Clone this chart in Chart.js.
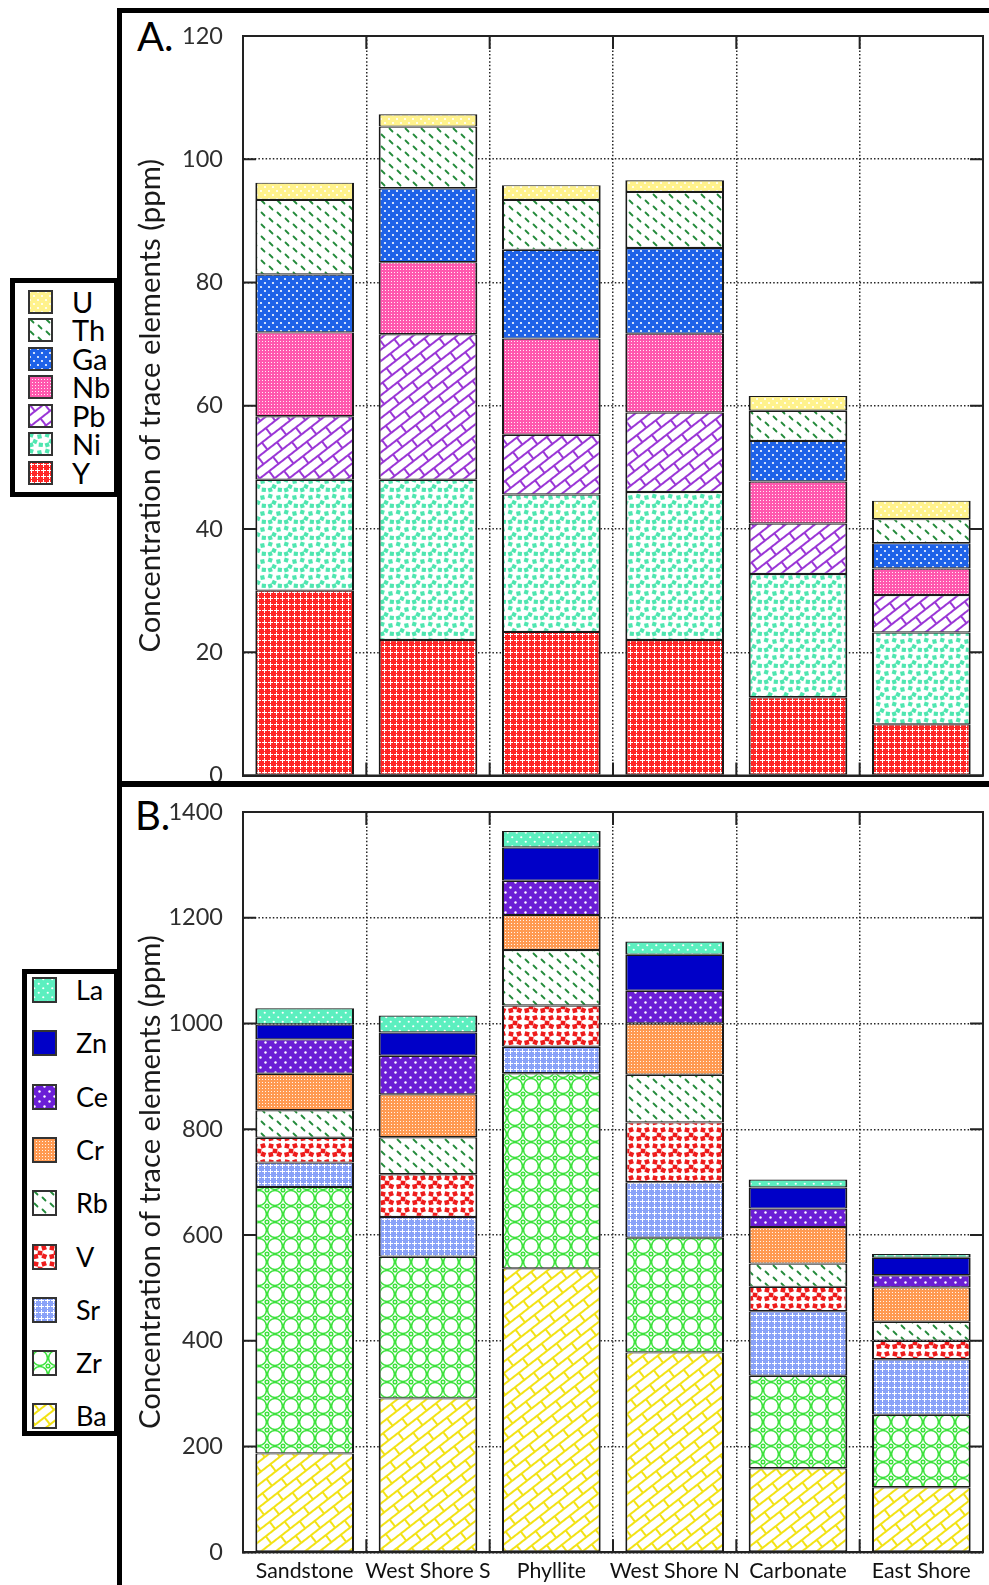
<!DOCTYPE html>
<html>
<head>
<meta charset="utf-8">
<script src="https://cdn.jsdelivr.net/npm/chart.js@4.4.1/dist/chart.umd.min.js"></script>
<style>
  body { margin: 0; width: 989px; height: 1585px; position: relative; overflow: hidden; background: #fff; font-family: Lato, sans-serif; color: #111; }
  .abs { position: absolute; }
  .line { position: absolute; background: #000; }
  .legend-box { position: absolute; border: 5px solid #000; box-sizing: border-box; background: #fff; }
  .panel-tag { position: absolute; font-size: 40px; line-height: 40px; color: #000; }
  .leg-text { position: absolute; height: 40px; line-height: 40px; color: #000; white-space: nowrap; }
  canvas.chart { position: absolute; }
</style>
</head>
<body>
<div class="line" style="left:117px;top:8px;width:900px;height:5px"></div>
<div class="line" style="left:117px;top:8px;width:5px;height:1600px"></div>
<div class="line" style="left:117px;top:781px;width:900px;height:6px"></div>

<div class="legend-box" id="legend-a" style="left:10px;top:278px;width:109px;height:219px"></div>
<div class="legend-box" id="legend-b" style="left:22px;top:969px;width:97px;height:467px"></div>

<div class="panel-tag" style="left:137px;top:16px">A.</div>
<div class="panel-tag" style="left:135px;top:795px">B.</div>

<canvas class="chart" id="chart-a" width="866" height="768" style="left:123px;top:13px"></canvas>
<canvas class="chart" id="chart-b" width="866" height="795" style="left:123px;top:790px"></canvas>

<script>
const SITES = ['Sandstone', 'West Shore S', 'Phyllite', 'West Shore N', 'Carbonate', 'East Shore'];

// panel A, ppm, stacked bottom to top
const Y_A  = [30.0, 22.0, 23.3, 22.0, 12.7, 8.3];
const NI_A = [18.0, 26.0, 22.3, 24.0, 20.0, 14.9];
const PB_A = [10.3, 23.6, 9.7, 12.9, 8.2, 6.1];
const NB_A = [13.6, 11.7, 15.6, 12.8, 6.8, 4.3];
const GA_A = [9.4, 12.0, 14.4, 13.9, 6.6, 4.1];
const TH_A = [12.1, 10.0, 8.1, 9.1, 4.9, 3.9];
const U_A  = [2.8, 2.0, 2.4, 1.9, 2.4, 3.0];

// panel B, ppm, stacked bottom to top
const BA_B = [187, 291, 537, 378, 159, 123];
const ZR_B = [504, 268, 369, 217, 175, 137];
const SR_B = [46, 75, 50, 105, 122, 105];
const V_B  = [47, 81, 78, 113, 46, 35];
const RB_B = [52, 70, 105, 90, 44, 36];
const CR_B = [69, 81, 66, 97, 69, 65];
const CE_B = [65, 73, 65, 62, 35, 23];
const ZN_B = [28, 44, 63, 68, 40, 33];
const LA_B = [31, 32, 31, 25, 15, 7];

const Y_TITLE = 'Concentration of trace elements (ppm)';

// ---- fill patterns ----
const patCtx = document.createElement('canvas').getContext('2d');

function tile(w, h, paint) {
  const c = document.createElement('canvas');
  c.width = w;
  c.height = h;
  const g = c.getContext('2d');
  paint(g, w, h);
  return c;
}

function pat(c, angle) {
  const p = patCtx.createPattern(c, 'repeat');
  if (angle) p.setTransform(new DOMMatrix().rotateSelf(angle));
  return p;
}

function dots(bg, s, r) {
  return pat(tile(s, s, (g) => {
    g.fillStyle = bg;
    g.fillRect(0, 0, s, s);
    g.fillStyle = '#fff';
    [[s / 4, s / 4], [3 * s / 4, 3 * s / 4]].forEach(([x, y]) => {
      g.beginPath();
      g.arc(x, y, r, 0, Math.PI * 2);
      g.fill();
    });
  }));
}

function speck(bg) {
  return pat(tile(3, 3, (g) => {
    g.fillStyle = bg;
    g.fillRect(0, 0, 3, 3);
    g.fillStyle = 'rgba(255,255,255,0.9)';
    g.fillRect(1, 1, 1, 1);
  }));
}

function plus(bg, s, arm) {
  return pat(tile(s, s, (g) => {
    g.fillStyle = bg;
    g.fillRect(0, 0, s, s);
    g.fillStyle = '#fff';
    const m = Math.floor(s / 2);
    g.fillRect(m, m - arm, 1, arm * 2 + 1);
    g.fillRect(m - arm, m, arm * 2 + 1, 1);
  }));
}

function dashes(color) {
  return pat(tile(16, 12, (g) => {
    g.fillStyle = '#fff';
    g.fillRect(0, 0, 16, 12);
    g.strokeStyle = color;
    g.lineWidth = 1.8;
    g.lineCap = 'round';
    g.beginPath();
    g.moveTo(2.5, 1.5); g.lineTo(5.5, 4.5);
    g.moveTo(10.5, 7.5); g.lineTo(13.5, 10.5);
    g.stroke();
  }));
}

function bricks(color) {
  return pat(tile(24, 18, (g) => {
    g.fillStyle = '#fff';
    g.fillRect(0, 0, 24, 18);
    g.strokeStyle = color;
    g.lineWidth = 2;
    g.beginPath();
    g.moveTo(0, 1); g.lineTo(24, 1);
    g.moveTo(0, 10); g.lineTo(24, 10);
    g.moveTo(1, 0); g.lineTo(1, 10);
    g.moveTo(13, 10); g.lineTo(13, 18);
    g.stroke();
  }), -38);
}

function squares(color, size, spots) {
  return pat(tile(16, 16, (g) => {
    g.fillStyle = '#fff';
    g.fillRect(0, 0, 16, 16);
    g.fillStyle = color;
    spots.forEach(([x, y, a]) => {
      g.save();
      g.translate(x, y);
      g.rotate(a);
      g.fillRect(-size / 2, -size / 2, size, size);
      g.restore();
    });
  }));
}

function rings(color) {
  return pat(tile(16, 16, (g) => {
    g.fillStyle = '#fff';
    g.fillRect(0, 0, 16, 16);
    g.strokeStyle = color;
    g.lineWidth = 1.5;
    g.beginPath();
    g.arc(8, 8, 7.4, 0, Math.PI * 2);
    g.stroke();
    [[0, 0], [16, 0], [0, 16], [16, 16]].forEach(([x, y]) => {
      g.beginPath();
      g.arc(x, y, 1.8, 0, Math.PI * 2);
      g.stroke();
    });
  }));
}

const FILL = {
  U: dots('#fff28c', 8, 1.1),
  Th: dashes('#238a3a'),
  Ga: dots('#1e62e8', 8, 1.1),
  Nb: speck('#ff58ae'),
  Pb: bricks('#9a36d6'),
  Ni: squares('#4fe6b0', 4.2, [[3.2, 3.2, 0.3], [11.5, 4.5, -0.2], [7, 9.5, 0.4], [12.8, 12.8, 0.1], [3.2, 12.8, -0.3]]),
  Y: plus('#ff2626', 6, 2),
  La: dots('#5cefbf', 9, 1.1),
  Zn: '#0000c8',
  Ce: dots('#6b1ed6', 10, 1.2),
  Cr: speck('#ff9a52'),
  Rb: dashes('#238a3a'),
  V: squares('#ee1c1c', 4.6, [[4, 4, 0.2], [12, 3.8, -0.3], [8, 9, 0.1], [3.8, 12.5, -0.2], [12.3, 12.3, 0.35]]),
  Sr: plus('#8aa2f8', 6, 2),
  Zr: rings('#3ce23c'),
  Ba: bricks('#f2e215'),
};

const SERIES_A = [['Y', Y_A], ['Ni', NI_A], ['Pb', PB_A], ['Nb', NB_A], ['Ga', GA_A], ['Th', TH_A], ['U', U_A]];
const SERIES_B = [['Ba', BA_B], ['Zr', ZR_B], ['Sr', SR_B], ['V', V_B], ['Rb', RB_B], ['Cr', CR_B], ['Ce', CE_B], ['Zn', ZN_B], ['La', LA_B]];

function toDatasets(series) {
  return series.map(([name, values]) => ({
    label: name,
    data: values,
    backgroundColor: FILL[name],
    borderColor: '#1a1a1a',
    borderWidth: { top: 1.2, bottom: 1.2, left: 2, right: 2 },
    borderSkipped: false,
    barPercentage: 0.8,
    categoryPercentage: 1.0,
  }));
}

// solid box round the plot and short inner ticks on all four sides
const framePlugin = {
  id: 'frame',
  afterDraw(chart) {
    const { ctx, chartArea: a } = chart;
    const x = chart.scales.x;
    const y = chart.scales.y;
    const t = 13;
    ctx.save();
    ctx.strokeStyle = '#222';
    ctx.lineWidth = 2;
    ctx.strokeRect(a.left, a.top, a.right - a.left, a.bottom - a.top);
    ctx.beginPath();
    y.ticks.forEach((tk) => {
      const py = y.getPixelForValue(tk.value);
      ctx.moveTo(a.left, py); ctx.lineTo(a.left + t, py);
      ctx.moveTo(a.right, py); ctx.lineTo(a.right - t, py);
    });
    for (let i = 0; i < x.ticks.length - 1; i++) {
      const px = (x.getPixelForValue(i) + x.getPixelForValue(i + 1)) / 2;
      ctx.moveTo(px, a.bottom); ctx.lineTo(px, a.bottom - t);
      ctx.moveTo(px, a.top); ctx.lineTo(px, a.top + t);
    }
    ctx.stroke();
    ctx.restore();
  },
};

function createChart(canvasId, series, cfg) {
  const gridStyle = { color: '#262626', lineWidth: 1.5, drawTicks: false };
  const borderStyle = { display: true, color: '#222', width: 2, dash: [1.5, 2.1] };
  const ctx = document.getElementById(canvasId).getContext('2d');
  return new Chart(ctx, {
    type: 'bar',
    data: { labels: SITES, datasets: toDatasets(series) },
    options: {
      responsive: false,
      animation: false,
      devicePixelRatio: 1,
      layout: { padding: cfg.padding },
      plugins: { legend: { display: false }, tooltip: { enabled: false } },
      scales: {
        x: {
          stacked: true,
          offset: true,
          grid: Object.assign({ offset: true }, gridStyle),
          border: borderStyle,
          ticks: {
            display: cfg.showX,
            color: '#111',
            font: { size: 21.3 },
            padding: 6.5,
            maxRotation: 0,
            autoSkip: false,
          },
          afterFit: (s) => {
            s.height = cfg.xHeight;
            s.paddingLeft = 0;
            s.paddingRight = 0;
          },
        },
        y: {
          stacked: true,
          min: 0,
          max: cfg.max,
          grid: gridStyle,
          border: borderStyle,
          ticks: {
            stepSize: cfg.step,
            color: '#2e2e2e',
            font: { size: 23.5 },
            padding: 20,
            callback: (v) => String(v),
          },
          title: {
            display: true,
            text: Y_TITLE,
            color: '#1a1a1a',
            font: { size: 29.3 },
            padding: { top: 10, bottom: 0 },
          },
          afterFit: (s) => {
            s.width = 120;
            s.paddingTop = 0;
            s.paddingBottom = 0;
          },
        },
      },
    },
    plugins: [framePlugin],
  });
}

function buildLegend(series, opts) {
  const body = document.body;
  const items = series.slice().reverse();
  items.forEach(([name], i) => {
    const cy = opts.firstY + i * opts.step;
    const sw = document.createElement('canvas');
    sw.width = opts.w;
    sw.height = opts.h;
    sw.className = 'abs';
    sw.style.left = opts.swatchX + 'px';
    sw.style.top = (cy - opts.h / 2) + 'px';
    const g = sw.getContext('2d');
    g.fillStyle = FILL[name];
    g.fillRect(0, 0, opts.w, opts.h);
    g.strokeStyle = '#333';
    g.lineWidth = 2;
    g.strokeRect(1, 1, opts.w - 2, opts.h - 2);
    body.appendChild(sw);

    const label = document.createElement('div');
    label.className = 'leg-text';
    label.textContent = name;
    label.style.left = opts.textX + 'px';
    label.style.top = (cy - 20) + 'px';
    label.style.fontSize = opts.font + 'px';
    body.appendChild(label);
  });
}

function draw() {
  Chart.defaults.font.family = 'Lato, sans-serif';
  createChart('chart-a', SERIES_A, {
    padding: { left: 0, right: 6, top: 23, bottom: 5.5 },
    showX: false, xHeight: 0, max: 120, step: 20,
  });
  createChart('chart-b', SERIES_B, {
    padding: { left: 0, right: 6, top: 22, bottom: 0 },
    showX: true, xHeight: 32.7, max: 1400, step: 200,
  });
  buildLegend(SERIES_A, { firstY: 301.5, step: 28.5, swatchX: 28, w: 25, h: 24, textX: 72, font: 29 });
  buildLegend(SERIES_B, { firstY: 990, step: 53.3, swatchX: 32, w: 25, h: 26, textX: 76, font: 27 });
}

Promise.all([document.fonts.load('23px Lato'), document.fonts.load('30px Lato')])
  .catch(() => null)
  .then(draw);
</script>
</body>
</html>
